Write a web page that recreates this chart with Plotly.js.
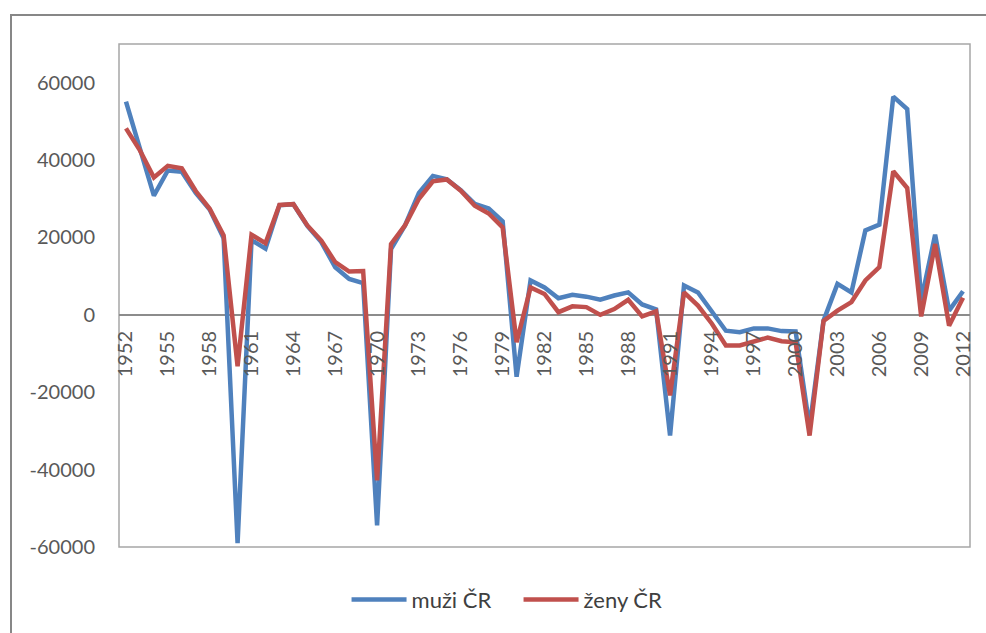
<!DOCTYPE html>
<html>
<head>
<meta charset="utf-8">
<script src="https://cdn.plot.ly/plotly-3.0.1.min.js"></script>
<style>
  html, body { margin: 0; padding: 0; background: #fff; overflow: hidden; }
  #chart { position: absolute; left: 0; top: 0; width: 986px; height: 633px; }
  #frame { position: absolute; left: 10px; top: 14px; width: 2000px; height: 2000px;
           border-left: 2px solid #878787; border-top: 2px solid #878787; pointer-events: none; }
</style>
</head>
<body>
<div id="chart"></div>
<div id="frame"></div>
<script>
const years = ["1952","1953","1954","1955","1956","1957","1958","1959","1960","1961",
  "1962","1963","1964","1965","1966","1967","1968","1969","1970","1971",
  "1972","1973","1974","1975","1976","1977","1978","1979","1980","1981",
  "1982","1983","1984","1985","1986","1987","1988","1989","1990","1991",
  "1992","1993","1994","1995","1996","1997","1998","1999","2000","2001",
  "2002","2003","2004","2005","2006","2007","2008","2009","2010","2011","2012"];

const muziCR = [55100, 42900, 30800, 37300, 37000, 31500, 27200, 19800, -59000, 19300,
  17100, 28300, 28600, 23000, 18800, 12300, 9300, 8200, -54400, 17000,
  23100, 31500, 35900, 35000, 32200, 28700, 27500, 24200, -16000, 8900,
  7100, 4300, 5200, 4700, 3900, 5000, 5800, 2700, 1400, -31200,
  7600, 5800, 700, -4100, -4500, -3500, -3500, -4200, -4300, -29000,
  -1500, 8000, 5800, 21800, 23300, 56400, 53200, 3700, 20700, 1100, 6100];

const zenyCR = [48200, 42500, 35500, 38500, 37900, 32000, 27400, 20500, -13300, 20700,
  18500, 28400, 28600, 23100, 19200, 13600, 11200, 11300, -42800, 18300,
  23100, 30000, 34500, 35000, 32100, 28200, 26200, 22600, -7100, 7100,
  5400, 700, 2200, 2000, 0, 1500, 3900, -400, 900, -20800,
  5800, 2400, -2300, -7900, -7900, -6800, -5900, -6800, -7100, -31200,
  -1600, 1100, 3300, 8900, 12300, 37100, 32800, -400, 18300, -2800, 4400];

const xTickLabels = ["1952","1955","1958","1961","1964","1967","1970","1973","1976","1979",
  "1982","1985","1988","1991","1994","1997","2000","2003","2006","2009","2012"];

const yTickVals = [-60000, -40000, -20000, 0, 20000, 40000, 60000];
const yTickText = ["-60000", "-40000", "-20000", "0", "20000", "40000", "60000"];

const yRange = [-60000, 70000];
const seriesNames = ["muži ČR", "ženy ČR"];

const font = "Lato, 'Open Sans', sans-serif";

const traces = [
  { x: years, y: muziCR, name: seriesNames[0], type: "scatter", mode: "lines",
    line: { color: "#4F81BD", width: 4.5, shape: "linear" } },
  { x: years, y: zenyCR, name: seriesNames[1], type: "scatter", mode: "lines",
    line: { color: "#C0504D", width: 4.5, shape: "linear" } }
];

const zeroPos = (0 - yRange[0]) / (yRange[1] - yRange[0]);

const layout = {
  width: 986, height: 633,
  margin: { l: 119, r: 16, t: 44, b: 86 },
  paper_bgcolor: "#ffffff", plot_bgcolor: "#ffffff",
  font: { family: font, size: 20, color: "#595959" },
  showlegend: true,
  legend: {
    orientation: "h", x: 0.4695, xanchor: "center", y: -0.105, yanchor: "middle",
    font: { family: font, size: 22, color: "#404040" },
    itemwidth: 55, entrywidth: 102, entrywidthmode: "pixels", tracegroupgap: 0
  },
  xaxis: {
    type: "category",
    range: [-0.5, years.length - 0.5],
    anchor: "free", position: zeroPos,
    showline: false, showgrid: false, zeroline: false,
    tickmode: "array", tickvals: xTickLabels, ticktext: xTickLabels,
    tickangle: -90, ticks: "", ticklabelstandoff: 11,
    tickfont: { family: font, size: 20, color: "#595959" }
  },
  yaxis: {
    range: yRange,
    tickmode: "array", tickvals: yTickVals, ticktext: yTickText,
    showgrid: false, showline: false,
    zeroline: true, zerolinecolor: "#8c8c8c", zerolinewidth: 1.3,
    ticks: "", ticklabelstandoff: 23,
    tickfont: { family: font, size: 20, color: "#595959" }
  },
  shapes: [
    { type: "rect", xref: "paper", yref: "paper", x0: 0, x1: 1, y0: 0, y1: 1,
      line: { color: "#a6a6a6", width: 1.5 }, layer: "below" }
  ]
};

Plotly.newPlot("chart", traces, layout, { staticPlot: true, displayModeBar: false });
</script>
</body>
</html>
